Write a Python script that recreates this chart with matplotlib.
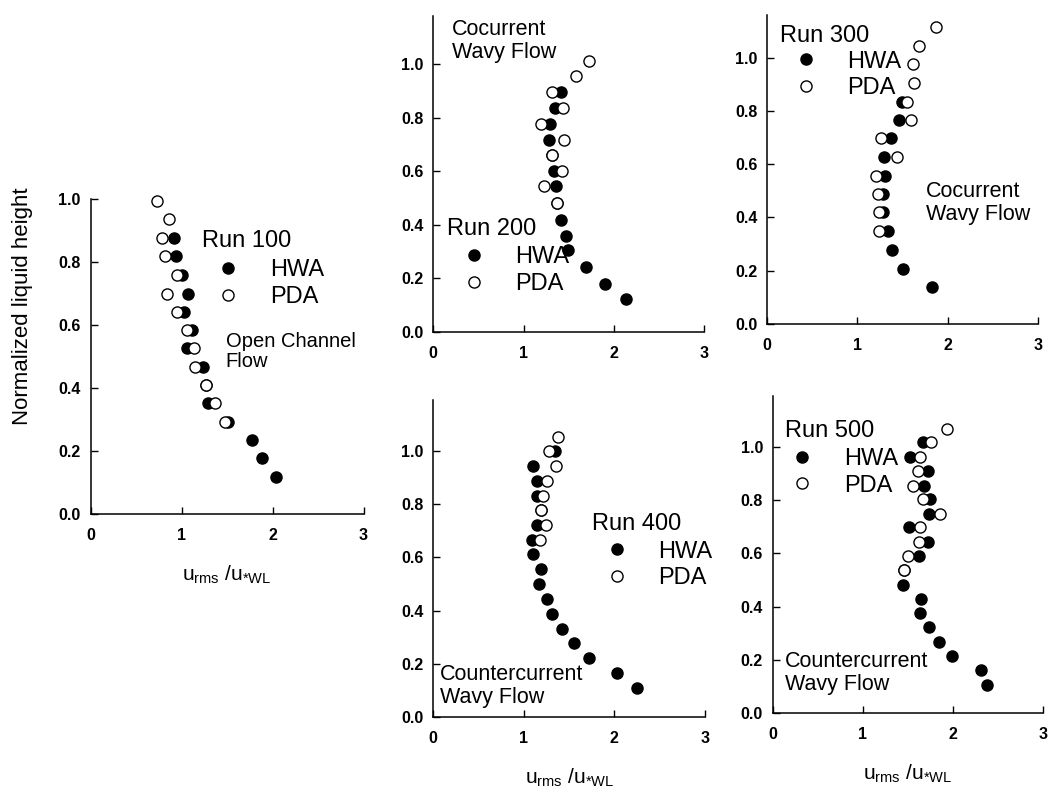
import matplotlib.pyplot as plt

plt.rcParams['font.family'] = ['Liberation Sans', 'DejaVu Sans']
plt.rcParams['mathtext.fontset'] = 'custom'
plt.rcParams['mathtext.rm'] = 'Liberation Sans'
plt.rcParams['mathtext.it'] = 'Liberation Sans'

# --- Measured profiles: u_rms/u*WL against normalized liquid height ---

# Run 100, open channel flow
run100_hwa_u = [0.92, 0.94, 1.00, 1.07, 1.03, 1.12, 1.06, 1.24, 1.27, 1.29, 1.51, 1.77, 1.89, 2.04]
run100_hwa_h = [0.876, 0.818, 0.759, 0.700, 0.642, 0.584, 0.526, 0.468, 0.409, 0.351, 0.293, 0.235, 0.177, 0.118]
run100_pda_u = [0.73, 0.86, 0.79, 0.82, 0.95, 0.84, 0.95, 1.06, 1.14, 1.15, 1.27, 1.37, 1.48]
run100_pda_h = [0.995, 0.935, 0.876, 0.818, 0.759, 0.700, 0.642, 0.584, 0.526, 0.468, 0.409, 0.351, 0.293]

# Run 200, cocurrent wavy flow
run200_hwa_u = [1.41, 1.35, 1.29, 1.28, 1.32, 1.34, 1.36, 1.37, 1.41, 1.47, 1.49, 1.69, 1.90, 2.14]
run200_hwa_h = [0.897, 0.837, 0.775, 0.716, 0.659, 0.600, 0.544, 0.480, 0.416, 0.359, 0.305, 0.240, 0.180, 0.121]
run200_pda_u = [1.72, 1.58, 1.32, 1.44, 1.19, 1.45, 1.32, 1.43, 1.23, 1.37]
run200_pda_h = [1.012, 0.956, 0.897, 0.837, 0.775, 0.716, 0.659, 0.600, 0.544, 0.480]

# Run 300, cocurrent wavy flow
run300_hwa_u = [1.49, 1.46, 1.37, 1.30, 1.31, 1.285, 1.28, 1.34, 1.38, 1.51, 1.83]
run300_hwa_h = [0.832, 0.766, 0.697, 0.628, 0.557, 0.488, 0.419, 0.349, 0.278, 0.206, 0.138]
run300_pda_u = [1.876, 1.68, 1.62, 1.63, 1.545, 1.59, 1.26, 1.44, 1.21, 1.23, 1.24, 1.24]
run300_pda_h = [1.114, 1.045, 0.975, 0.906, 0.832, 0.766, 0.697, 0.628, 0.557, 0.488, 0.419, 0.349]

# Run 400, countercurrent wavy flow
run400_hwa_u = [1.345, 1.105, 1.14, 1.14, 1.187, 1.15, 1.09, 1.105, 1.19, 1.17, 1.25, 1.315,
                1.42, 1.555, 1.72, 2.03, 2.25]
run400_hwa_h = [0.997, 0.943, 0.888, 0.830, 0.778, 0.720, 0.665, 0.611, 0.557, 0.500, 0.444, 0.388,
                0.331, 0.278, 0.221, 0.168, 0.111]
run400_pda_u = [1.38, 1.278, 1.355, 1.26, 1.215, 1.187, 1.245, 1.18]
run400_pda_h = [1.050, 0.997, 0.943, 0.888, 0.830, 0.778, 0.720, 0.665]

# Run 500, countercurrent wavy flow
run500_hwa_u = [1.667, 1.53, 1.73, 1.681, 1.748, 1.737, 1.515, 1.73, 1.63, 1.46, 1.444, 1.648,
                1.637, 1.737, 1.852, 1.989, 2.311, 2.378]
run500_hwa_h = [1.016, 0.962, 0.910, 0.853, 0.803, 0.747, 0.697, 0.643, 0.591, 0.537, 0.481, 0.429,
                0.375, 0.322, 0.269, 0.215, 0.162, 0.106]
run500_pda_u = [1.94, 1.756, 1.637, 1.618, 1.556, 1.667, 1.859, 1.637, 1.63, 1.507, 1.459]
run500_pda_h = [1.066, 1.016, 0.962, 0.910, 0.853, 0.803, 0.747, 0.697, 0.643, 0.591, 0.537]

x_ticks = [0, 1, 2, 3]
y_ticks = [0.0, 0.2, 0.4, 0.6, 0.8, 1.0]
x_label = r'u$_{\mathrm{rms}}$ /u$_{*\mathrm{WL}}$'

W, H = 1051, 792
fig = plt.figure(figsize=(W / 100, H / 100), dpi=100)


def add_panel(x0, x3, y0, y1, ytop):
    """Axes placed by pixel columns of u=0 and u=3 and pixel rows of h=0 and h=1."""
    left = x0 / W
    width = (x3 - x0) / W
    bottom = 1 - y0 / H
    height = (y0 - y1) * ytop / H
    ax = fig.add_axes([left, bottom, width, height])
    ax.set_xlim(0, 3)
    ax.set_ylim(0, ytop)
    ax.set_xticks(x_ticks)
    ax.set_yticks(y_ticks)
    ax.set_xticklabels([str(t) for t in x_ticks])
    ax.set_yticklabels([f'{t:.1f}' for t in y_ticks])
    for side in ('top', 'right'):
        ax.spines[side].set_visible(False)
    for side in ('left', 'bottom'):
        ax.spines[side].set_linewidth(1.1)
    ax.tick_params(direction='in', length=5, width=1.0)
    ax.tick_params(axis='x', pad=10)
    ax.tick_params(axis='y', pad=7)
    for lab in ax.get_xticklabels() + ax.get_yticklabels():
        lab.set_fontsize(11.5)
        lab.set_fontweight('bold')
    return ax


def draw_run(ax, hwa_u, hwa_h, pda_u, pda_h):
    hwa, = ax.plot(hwa_u, hwa_h, 'o', ms=8, mfc='black', mec='black', mew=1.0,
                   clip_on=False, zorder=3, label='HWA')
    pda, = ax.plot(pda_u, pda_h, 'o', ms=8, mfc='white', mec='black', mew=1.0,
                   clip_on=False, zorder=4, label='PDA')
    return hwa, pda


def run_key(ax, name, title_xy, key_xy):
    # "Run nnn" heading followed by the HWA / PDA key
    ax.text(title_xy[0], title_xy[1], name, fontsize=17, ha='left', va='baseline')
    leg = ax.legend(loc='center left', bbox_to_anchor=key_xy, bbox_transform=ax.transData,
                    frameon=False, fontsize=17, numpoints=1, handlelength=1.0,
                    handletextpad=1.25, labelspacing=0.2, borderpad=0, borderaxespad=0)
    return leg


# Run 100
ax1 = add_panel(90.5, 363.5, 514, 199, 1.0)
draw_run(ax1, run100_hwa_u, run100_hwa_h, run100_pda_u, run100_pda_h)
run_key(ax1, 'Run 100', (1.222, 0.847), (1.385, 0.732))
ax1.text(1.486, 0.578, 'Open Channel\nFlow', fontsize=14.5, ha='left', va='top', linespacing=1.1)
ax1.set_xlabel(x_label, fontsize=15, labelpad=15)
ax1.set_ylabel('Normalized liquid height', fontsize=16)
ax1.yaxis.set_label_coords(-0.21, 0.66)

# Run 200
ax2 = add_panel(433.3, 704, 331.7, 64, 1.18)
draw_run(ax2, run200_hwa_u, run200_hwa_h, run200_pda_u, run200_pda_h)
run_key(ax2, 'Run 200', (0.148, 0.361), (0.319, 0.228))
ax2.text(0.21, 1.167, 'Cocurrent\nWavy Flow', fontsize=15.5, ha='left', va='top', linespacing=1.1)

# Run 300
ax3 = add_panel(767.3, 1037.7, 324, 57.7, 1.16)
draw_run(ax3, run300_hwa_u, run300_hwa_h, run300_pda_u, run300_pda_h)
run_key(ax3, 'Run 300', (0.141, 1.06), (0.295, 0.935))
ax3.text(1.756, 0.537, 'Cocurrent\nWavy Flow', fontsize=15.5, ha='left', va='top', linespacing=1.15)

# Run 400
ax4 = add_panel(433.3, 705, 717.3, 450.7, 1.19)
draw_run(ax4, run400_hwa_u, run400_hwa_h, run400_pda_u, run400_pda_h)
run_key(ax4, 'Run 400', (1.75, 0.703), (1.896, 0.571))
ax4.text(0.074, 0.20, 'Countercurrent\nWavy Flow', fontsize=15.5, ha='left', va='top', linespacing=1.1)
ax4.set_xlabel(x_label, fontsize=15, labelpad=15)

# Run 500
ax5 = add_panel(772.7, 1042.7, 713.3, 446.7, 1.19)
draw_run(ax5, run500_hwa_u, run500_hwa_h, run500_pda_u, run500_pda_h)
run_key(ax5, 'Run 500', (0.137, 1.037), (0.198, 0.904))
ax5.text(0.137, 0.234, 'Countercurrent\nWavy Flow', fontsize=15.5, ha='left', va='top', linespacing=1.1)
ax5.set_xlabel(x_label, fontsize=15, labelpad=15)

fig.savefig('out.png', dpi=100)
